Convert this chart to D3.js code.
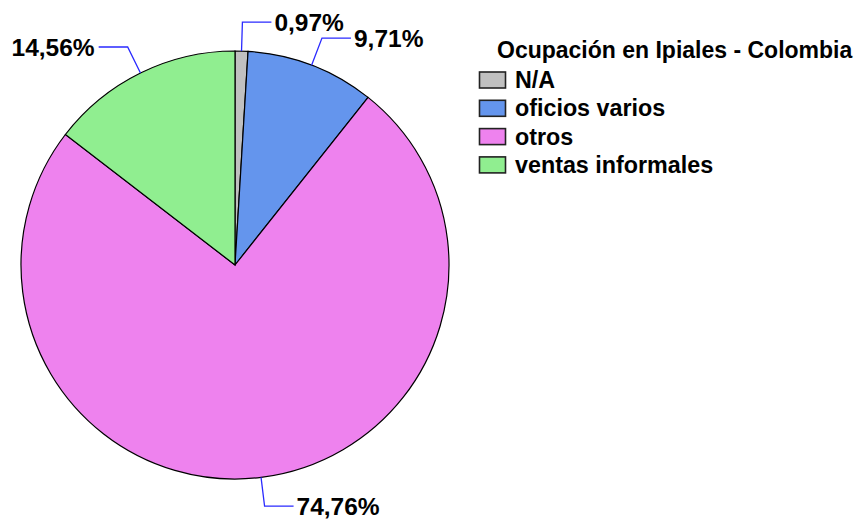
<!DOCTYPE html>
<html><head><meta charset="utf-8">
<script src="https://cdn.jsdelivr.net/npm/d3@7"></script>
<style>body{margin:0;background:#fff}svg{display:block}text{font-family:"Liberation Sans",Arial,sans-serif;font-weight:bold;fill:#000}</style>
</head><body>
<script>
const categories = ["N/A", "oficios varios", "otros", "ventas informales"];
const counts = [1, 10, 77, 15];
const labels = ["0,97%", "9,71%", "74,76%", "14,56%"];
const colors = ["#c0c0c0", "#6495ed", "#ee82ee", "#90ee90"];
const title = "Ocupación en Ipiales - Colombia";

const W = 865, H = 521;
const cx = 235, cy = 265, R = 214;
const svg = d3.select("body").append("svg").attr("width", W).attr("height", H);

const pie = d3.pie().sort(null).value(d => d)(counts);
const arc = d3.arc().innerRadius(0).outerRadius(R);
const g = svg.append("g").attr("transform", `translate(${cx},${cy})`);
g.selectAll("path").data(pie).join("path")
  .attr("d", arc).attr("fill", (d, i) => colors[i])
  .attr("stroke", "#000").attr("stroke-width", 1.2);

const ext = 29, hl = 29;
pie.forEach((d, i) => {
  const a = (d.startAngle + d.endAngle) / 2;
  const x0 = Math.sin(a) * R, y0 = -Math.cos(a) * R;
  const x1 = Math.sin(a) * (R + ext), y1 = -Math.cos(a) * (R + ext);
  const right = Math.sin(a) >= 0;
  const x2 = x1 + (right ? hl : -hl);
  g.append("polyline").attr("points", `${x0},${y0} ${x1},${y1} ${x2},${y1}`)
    .attr("fill", "none").attr("stroke", "#2a2aff").attr("stroke-width", 1.3);
  g.append("text").attr("x", x2 + (right ? 3 : -4)).attr("y", y1)
    .attr("dy", "0.35em").attr("text-anchor", right ? "start" : "end")
    .style("font-size", "24.5px").text(labels[i]);
});

const lg = svg.append("g");
lg.append("text").attr("x", 497).attr("y", 50).attr("dy", "0.35em")
  .style("font-size", "23px").text(title);
const rowY = d3.scaleLinear().domain([0, 1]).range([80, 108.3]);
categories.forEach((c, i) => {
  const y = rowY(i);
  lg.append("rect").attr("x", 479.5).attr("y", y - 8).attr("width", 26).attr("height", 16)
    .attr("fill", colors[i]).attr("stroke", "#222").attr("stroke-width", 1.6);
  lg.append("text").attr("x", 515).attr("y", y).attr("dy", "0.35em")
    .style("font-size", "23.3px").text(c);
});
</script>
</body></html>
